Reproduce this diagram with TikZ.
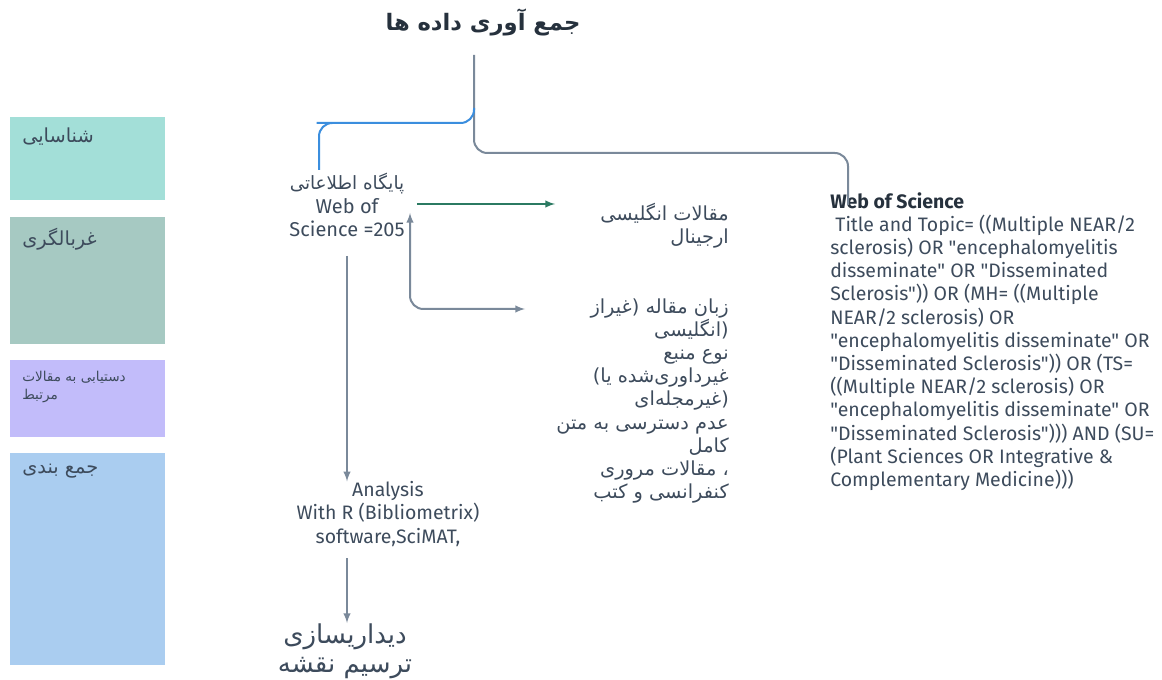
\documentclass[tikz,border=0pt]{standalone}
\usepackage{fontspec}
\setmainfont{Fira Sans}[Ligatures=TeXOff]
\newfontfamily\fafont[Script=Arabic]{DejaVu Sans}
\TeXXeTstate=1
\usetikzlibrary{arrows,positioning,calc}
\usepackage{xcolor}

\definecolor{inkgray}{HTML}{3D4B5C}
\definecolor{inkdark}{HTML}{26313D}
\definecolor{linegray}{HTML}{7A899A}
\definecolor{lineblue}{HTML}{3B8EDE}
\definecolor{linegreen}{HTML}{2B7A62}
\definecolor{boxteal}{HTML}{A3DFD8}
\definecolor{boxsage}{HTML}{A6C9C2}
\definecolor{boxlilac}{HTML}{C2BCFA}
\definecolor{boxsky}{HTML}{AACDF0}

% one right-to-left line
\newcommand{\faline}[1]{\beginR #1\endR}

\tikzset{
  stagelabel/.style={anchor=north west,align=left,inner sep=0pt,text=inkgray,
    font=\fafont\fontsize{14.5}{17}\selectfont},
  fatext/.style={text=inkgray,inner sep=0pt,font=\fafont\fontsize{14.5}{17.4}\selectfont},
  entext/.style={text=inkgray,inner sep=0pt,font=\fontsize{14.6}{17.4}\selectfont},
  linkgray/.style={draw=linegray,line width=1.5pt},
  linkblue/.style={draw=lineblue,line width=1.5pt},
  linkgreen/.style={draw=linegreen,line width=1.5pt}
}

\begin{document}
\begin{tikzpicture}[x=0.75pt,y=-0.75pt]
    \useasboundingbox (0,0) rectangle (1162,680);
    % stage column
    \fill[boxteal] (10,117) rectangle (165,200);
    \fill[boxsage] (10,217) rectangle (165,344);
    \fill[boxlilac] (10,360) rectangle (165,437);
    \fill[boxsky] (10,453) rectangle (165,665);
    \node[stagelabel] (identify) at (22,128) {\faline{شناسایی}};
    \node[stagelabel] (screen) at (22,228) {\faline{غربالگری}};
    \node[stagelabel,font=\fafont\fontsize{10.2}{13.5}\selectfont] (access) at (22,371) {\faline{دستیابی به مقالات}\\\faline{مرتبط}};
    \node[stagelabel] (summary) at (22,464) {\faline{جمع بندی}};

    % title
    \node[text=inkdark,font=\fafont\bfseries\fontsize{17}{20}\selectfont] (collect) at (483,22) {\faline{جمع آوری داده ها}};

    % sources
    \node[entext,align=center,font=\fontsize{15}{17.4}\selectfont] (wosdb) at (347,205) {{\fafont\fontsize{13.75}{17.4}\selectfont\faline{پایگاه اطلاعاتی}}\\Web of\\Science =205};
    \node[fatext,anchor=east,align=right] (english) at (729,226) {\faline{مقالات انگلیسی}\\\faline{ارجینال}};
    \node[fatext,anchor=east,align=right] (excluded) at (729,401) {\faline{زبان مقاله (غیراز}\\\faline{(انگلیسی}\\\faline{نوع منبع}\\\faline{غیرداوری‌شده یا)}\\\faline{(غیرمجله‌ای}\\\faline{عدم دسترسی به متن}\\\faline{کامل}\\\faline{، مقالات مروری}\\\faline{کنفرانسی و کتب}};
    \node[entext,anchor=north west,align=left] (query) at (830,192) {\textbf{\color{inkdark}Web of Science}\\
      \ Title and Topic= ((Multiple NEAR/2\\
      sclerosis) OR "encephalomyelitis\\
      disseminate" OR "Disseminated\\
      Sclerosis")) OR (MH= ((Multiple\\
      NEAR/2 sclerosis) OR\\
      "encephalomyelitis disseminate" OR\\
      "Disseminated Sclerosis")) OR (TS=\\
      ((Multiple NEAR/2 sclerosis) OR\\
      "encephalomyelitis disseminate" OR\\
      "Disseminated Sclerosis"))) AND (SU=\\
      (Plant Sciences OR Integrative \&\\
      Complementary Medicine)))};
    \node[entext,align=center] (analysis) at (388,514) {Analysis\\With R (Bibliometrix)\\software,SciMAT,};
    \node[fatext,align=center,font=\fafont\fontsize{19.5}{22}\selectfont] (visual) at (345,651) {\faline{دیداریسازی}\\\faline{ترسیم نقشه}};

    % connectors
    \coordinate (trunk) at (474,55);
    \coordinate (dbtop) at (319,170);
    \coordinate (querytop) at (848,205);
    \coordinate (backtip) at (410,213);
    \coordinate (dropout) at (525,309);
    \coordinate (greenstart) at ($(wosdb.east)+(12,-1)$);
    \coordinate (greenend) at ($(english.west)+(-45,0)$);
    \draw[linkgray,rounded corners=10] (trunk) -- (474,153) -| (querytop);
    \draw[linkblue,rounded corners=10] (474,108) |- (330,123) -| (dbtop);
    \draw[linkgreen,-latex] (greenstart) -- (greenend |- greenstart);
    \draw[linkgray,latex-latex,rounded corners=10] (backtip) |- (dropout);
    \draw[linkgray,-latex] (347,256) -- (analysis.north -| 347,0);
    \draw[linkgray,-latex] (347,558) -- (visual.north -| 347,0);
  \end{tikzpicture}
\end{document}
